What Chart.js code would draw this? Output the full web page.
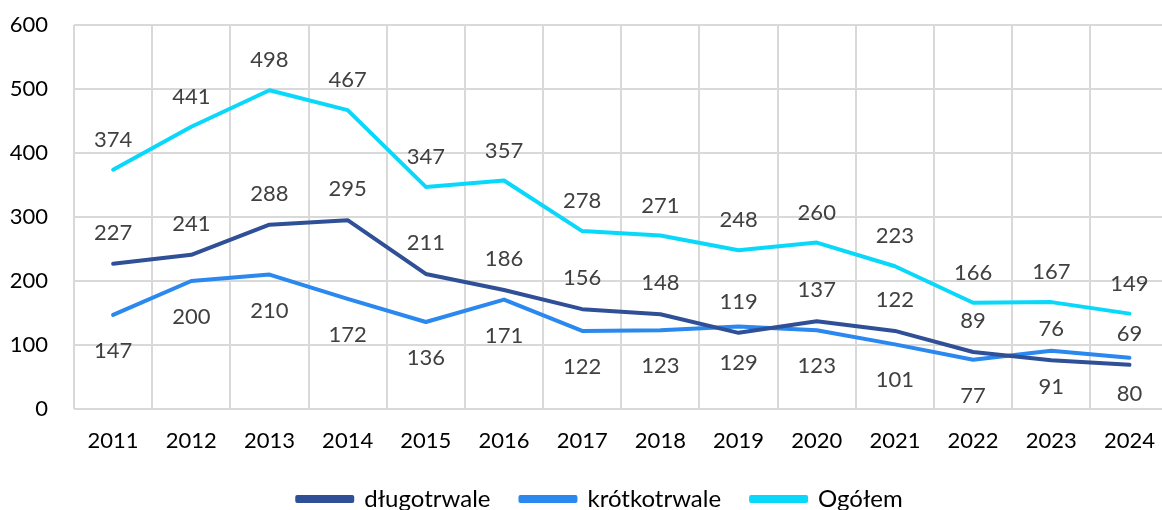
<!DOCTYPE html>
<html lang="pl">
<head>
<meta charset="UTF-8">
<title>Wykres</title>
<script src="https://cdn.jsdelivr.net/npm/chart.js"></script>
<style>
  html, body { margin: 0; padding: 0; background: #fff; overflow: hidden; }
  #wrap { width: 1174px; height: 510px; }
</style>
</head>
<body>
<div id="wrap"><canvas id="chart"></canvas></div>
<script>
// dane
const years = ['2011', '2012', '2013', '2014', '2015', '2016', '2017', '2018', '2019', '2020', '2021', '2022', '2023', '2024'];
const dlugotrwale = [227, 241, 288, 295, 211, 186, 156, 148, 119, 137, 122, 89, 76, 69];
const krotkotrwale = [147, 200, 210, 172, 136, 171, 122, 123, 129, 123, 101, 77, 91, 80];
const ogolem = [374, 441, 498, 467, 347, 357, 278, 271, 248, 260, 223, 166, 167, 149];
const yTicks = [0, 100, 200, 300, 400, 500, 600];

const FONT = 'Lato, "Open Sans", sans-serif';

// etykiety danych: nad linia (ujemne) lub pod linia (dodatnie)
const labelOffset = [-31, 36, -30];

const dataLabels = {
  id: 'dataLabels',
  afterDatasetsDraw(chart) {
    const ctx = chart.ctx;
    ctx.save();
    ctx.font = '22px ' + FONT;
    ctx.fillStyle = '#404040';
    ctx.textAlign = 'center';
    ctx.textBaseline = 'middle';
    chart.data.datasets.forEach((ds, i) => {
      chart.getDatasetMeta(i).data.forEach((pt, j) => {
        ctx.fillText(String(ds.data[j]), pt.x, pt.y + labelOffset[i]);
      });
    });
    ctx.restore();
  }
};

// legenda troche w prawo, jak w oryginale
const legendShift = {
  id: 'legendShift',
  afterLayout(chart) {
    if (chart.legend) {
      chart.legend.left += 13;
      chart.legend.right += 13;
    }
  }
};

new Chart(document.getElementById('chart'), {
  type: 'line',
  data: {
    labels: years,
    datasets: [
      { label: 'długotrwale', data: dlugotrwale, borderColor: '#2F5096', backgroundColor: '#2F5096' },
      { label: 'krótkotrwale', data: krotkotrwale, borderColor: '#2A88EE', backgroundColor: '#2A88EE' },
      { label: 'Ogółem', data: ogolem, borderColor: '#0AD8FA', backgroundColor: '#0AD8FA' }
    ]
  },
  options: {
    responsive: true,
    maintainAspectRatio: false,
    animation: false,
    layout: { padding: { top: 25, right: 0, bottom: -11, left: 0 } },
    elements: {
      line: { borderWidth: 4, tension: 0, borderCapStyle: 'round', borderJoinStyle: 'round' },
      point: { radius: 0, hoverRadius: 0 }
    },
    scales: {
      x: {
        offset: true,
        afterFit(scale) { scale.height = 48; },
        grid: { color: '#d9d9d9', lineWidth: 2, offset: true, drawTicks: false },
        border: { display: false },
        ticks: { color: '#000', font: { family: FONT, size: 22 }, padding: 19, maxRotation: 0 }
      },
      y: {
        min: 0,
        max: 600,
        afterBuildTicks(scale) { scale.ticks = yTicks.map(v => ({ value: v })); },
        afterFit(scale) {
          scale.width = 74;
          scale.paddingTop = 13;
          scale.paddingBottom = 13;
        },
        grid: { color: '#d9d9d9', lineWidth: 2, drawTicks: false },
        border: { display: false },
        ticks: { color: '#000', font: { family: FONT, size: 22 }, padding: 26 }
      }
    },
    plugins: {
      tooltip: { enabled: false },
      legend: {
        position: 'bottom',
        labels: {
          color: '#000',
          font: { family: FONT, size: 24 },
          boxWidth: 55,
          boxHeight: 4,
          padding: 30
        }
      }
    }
  },
  plugins: [dataLabels, legendShift]
});
</script>
</body>
</html>
